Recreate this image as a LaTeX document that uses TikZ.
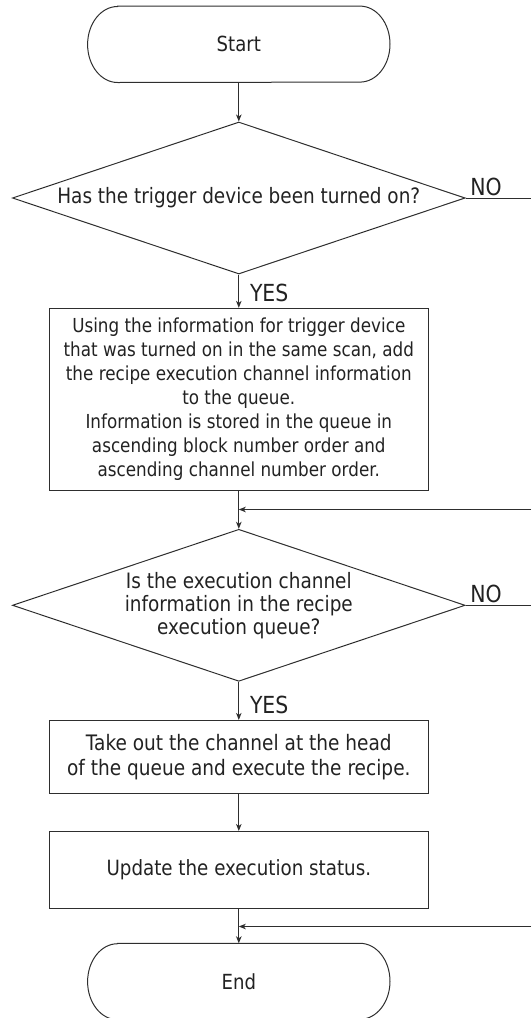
\documentclass[tikz,border=0pt]{standalone}
\usepackage{fontspec}
\setmainfont{DejaVu Sans}[FakeStretch=0.87]
\usetikzlibrary{shapes.geometric,arrows.meta}
\definecolor{ln}{HTML}{2E2E2E}
\definecolor{tx}{HTML}{222222}
\begin{document}
\begin{tikzpicture}[x=1pt,y=-1pt,
  every node/.style={text=tx, font=\fontsize{19.3}{24}\selectfont},
  box/.style={draw=ln, line width=1pt, rectangle, inner sep=0pt, minimum width=378.4pt, align=center},
  dec/.style={draw=ln, line width=1pt, diamond, inner sep=0pt, minimum width=452.7pt, minimum height=152pt},
  dectext/.style={align=center, font=\fontsize{21.2}{23}\selectfont},
  term/.style={inner sep=0pt, minimum width=302pt, minimum height=76pt, font=\fontsize{20.8}{23}\selectfont},
  termline/.style={draw=ln, line width=1pt},
  conn/.style={draw=ln, line width=1pt, -{Stealth[length=7pt,width=5.5pt,inset=2pt]}},
  plain/.style={draw=ln, line width=1pt},
  lbl/.style={inner sep=0pt, font=\fontsize{23.5}{25}\selectfont}]

\useasboundingbox (0,0) rectangle (531,1018);

% nodes
\node[term] (start) at (238.8,44.3) {Start};
\node[dec] (d1) at (238.8,198) {};
\node[dectext] (d1t) at (238.8,198) {Has the trigger device been turned on?};
\node[box, minimum height=181.7pt] (b1) at (238.8,399.2) {Using the information for trigger device\\that was turned on in the same scan, add\\the recipe execution channel information\\to the queue.\\Information is stored in the queue in\\ascending block number order and\\ascending channel number order.};
\coordinate (j1) at (238.8,509.5);
\coordinate (r1) at (531,509.5);
\node[dec] (d2) at (238.8,605.3) {};
\node[dectext] (d2t) at (238.8,605.3) {Is the execution channel\\information in the recipe\\execution queue?};
\node[box, minimum height=73pt, font=\fontsize{21.3}{25}\selectfont] (b2) at (238.8,756.9) {Take out the channel at the head\\of the queue and execute the recipe.};
\node[box, minimum height=77pt, font=\fontsize{21}{24}\selectfont] (b3) at (238.8,870) {Update the execution status.};
\coordinate (j2) at (238.8,926.5);
\coordinate (r2) at (531,926.5);
\node[term] (end) at (238.8,981.5) {End};
\coordinate (no1end) at (531,198);
\coordinate (no2end) at (531,605.3);

% terminal outlines
\draw[termline] ([xshift=30pt]start.north west) -- ([xshift=-30pt]start.north east)
  arc[start angle=90,end angle=-90,x radius=30pt,y radius=38pt]
  -- ([xshift=30pt]start.south west)
  arc[start angle=270,end angle=90,x radius=30pt,y radius=38pt] -- cycle;
\draw[termline] ([xshift=30pt]end.north west) -- ([xshift=-30pt]end.north east)
  arc[start angle=90,end angle=-90,x radius=30pt,y radius=38pt]
  -- ([xshift=30pt]end.south west)
  arc[start angle=270,end angle=90,x radius=30pt,y radius=38pt] -- cycle;

% labels
\node[lbl, anchor=base west] (no1) at ([xshift=4.5pt,yshift=2.5pt]d1.east) {NO};
\node[lbl, anchor=base west] (yes1) at ([xshift=11pt,yshift=6.5pt]b1.north) {YES};
\node[lbl, anchor=base west] (no2) at ([xshift=4.5pt,yshift=3pt]d2.east) {NO};
\node[lbl, anchor=base west] (yes2) at ([xshift=11pt,yshift=6.5pt]b2.north) {YES};

% connectors
\draw[conn] (start) -- (d1);
\draw[plain] (d1.east) -- (no1end);
\draw[conn] (d1) -- (b1);
\draw[conn] (b1) -- (d2);
\draw[conn] (r1) -- (j1);
\draw[plain] (d2.east) -- (no2end);
\draw[conn] (d2) -- (b2);
\draw[conn] (b2) -- (b3);
\draw[conn] (b3) -- (end);
\draw[conn] (r2) -- (j2);
\end{tikzpicture}
\end{document}
